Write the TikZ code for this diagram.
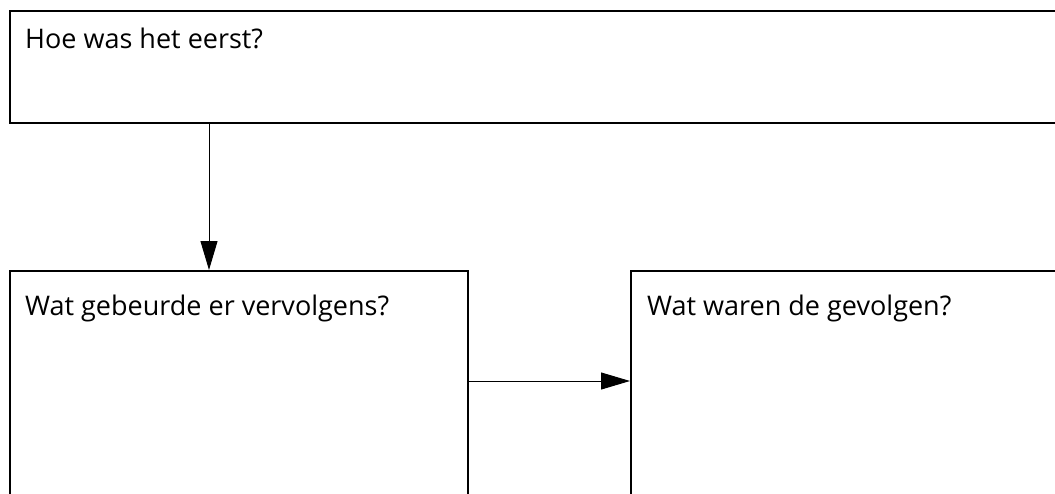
\documentclass[tikz,border=0pt]{standalone}
\usepackage{fontspec}
\setmainfont{Open Sans}
\usetikzlibrary{arrows.meta}
\begin{document}
\begin{tikzpicture}[x=1pt,y=-1pt,
  box/.style={draw,line width=2pt,rectangle,anchor=north west,inner sep=0pt},
  boxtext/.style={anchor=base west,inner sep=0pt,font=\fontsize{27}{32}\selectfont},
  arr/.style={line width=1pt,-{Triangle[length=29pt,width=17pt]}}]
\useasboundingbox (0,0) rectangle (1055,493);
\clip (0,0) rectangle (1055,493);
% three boxes, the right and lower edges run past the page
\node[box,minimum width=1070pt,minimum height=112pt] (top) at (9,10) {};
\node[box,minimum width=458pt,minimum height=260pt] (mid) at (9,270) {};
\node[box,minimum width=440pt,minimum height=260pt] (right) at (630,270) {};
% captions
\node[boxtext] (t1) at (25,48) {Hoe was het eerst?};
\node[boxtext] (t2) at (25,315) {Wat gebeurde er vervolgens?};
\node[boxtext] (t3) at (647,315) {Wat waren de gevolgen?};
% connectors
\draw[arr] ([xshift=200pt]top.south west) -- ([xshift=200pt]mid.north west);
\draw[arr] ([yshift=-111pt]mid.north east) -- ([yshift=-111pt]right.north west);
\end{tikzpicture}
\end{document}
